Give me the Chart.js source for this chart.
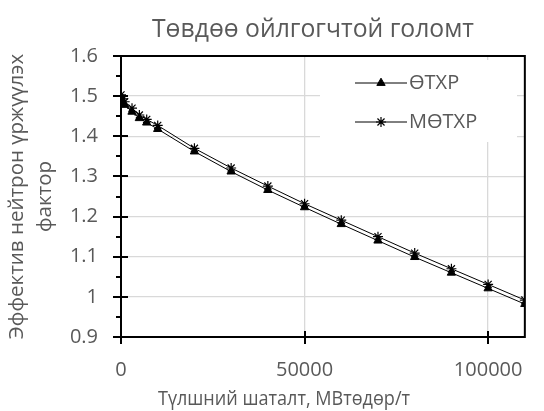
<!DOCTYPE html>
<html>
<head>
<meta charset="utf-8">
<script src="https://cdn.jsdelivr.net/npm/chart.js@4.4.0/dist/chart.umd.min.js"></script>
<style>
  html, body { margin: 0; padding: 0; background: #fff; }
</style>
</head>
<body>
<canvas id="chart" width="544" height="411"></canvas>
<script>
// burnup, MWd/t
const burnup = [0, 500, 1000, 3000, 5000, 7000, 10000, 20000, 30000, 40000, 50000, 60000, 70000, 80000, 90000, 100000, 110000];
// k-eff
const otxr = [1.495, 1.485, 1.478, 1.461, 1.445, 1.434, 1.418, 1.362, 1.312, 1.266, 1.223, 1.181, 1.140, 1.099, 1.060, 1.021, 0.982];
const motxr = [1.503, 1.493, 1.486, 1.470, 1.453, 1.442, 1.427, 1.370, 1.321, 1.276, 1.232, 1.191, 1.150, 1.109, 1.070, 1.031, 0.992];
const seriesNames = ["ӨТХР", "МӨТХР"];

const xTicks = [0, 50000, 100000];
const yTicks = [0.9, 1.0, 1.1, 1.2, 1.3, 1.4, 1.5, 1.6];

const chartTitle = "Төвдөө ойлгогчтой голомт";
const xTitle = "Түлшний шаталт, МВтөдөр/т";
const yTitle = ["Эффектив нейтрон үржүүлэх", "фактор"];

const FONT = "'Open Sans', sans-serif";
const GREY = "#595959";

const pts = ys => burnup.map((b, i) => ({x: b, y: ys[i]}));

// title, x title, axis frame, tick marks and legend box, the way excel draws them
const excelBits = {
    id: "excelBits",
    afterDraw(chart) {
        const {ctx, chartArea: a, scales: {x, y}} = chart;
        ctx.save();

        ctx.fillStyle = GREY;
        ctx.textAlign = "center";
        ctx.textBaseline = "middle";
        ctx.font = "25px " + FONT;
        ctx.fillText(chartTitle, 313, 30, 322);
        // excel left the axis title off-centre
        ctx.font = "20px " + FONT;
        ctx.fillText(xTitle, 284, 399, 252);

        ctx.strokeStyle = "#000";
        ctx.lineWidth = 2;
        ctx.strokeRect(a.left, a.top, a.right - a.left, a.bottom - a.top);

        ctx.beginPath();
        yTicks.forEach((v, i) => {
            const py = Math.round(y.getPixelForValue(v));
            ctx.moveTo(a.left - 8, py);
            ctx.lineTo(a.left + 7, py);
            if (i > 0) {
                const pm = Math.round(y.getPixelForValue((v + yTicks[i - 1]) / 2));
                ctx.moveTo(a.left - 5, pm);
                ctx.lineTo(a.left, pm);
            }
        });
        xTicks.forEach(v => {
            const px = Math.round(x.getPixelForValue(v));
            ctx.moveTo(px, a.bottom - 6);
            ctx.lineTo(px, a.bottom + 7);
        });
        ctx.stroke();

        // legend
        ctx.fillStyle = "#fff";
        ctx.fillRect(320, 60, 197, 82);
        chart.data.datasets.forEach((ds, i) => {
            const ly = 83 + i * 39;
            ctx.strokeStyle = "#000";
            ctx.lineWidth = 1;
            ctx.beginPath();
            ctx.moveTo(355, ly);
            ctx.lineTo(407, ly);
            ctx.stroke();
            ctx.fillStyle = "#000";
            ctx.lineWidth = ds.pointBorderWidth;
            Chart.helpers.drawPoint(ctx, {pointStyle: ds.pointStyle, radius: ds.pointRadius, borderWidth: ds.pointBorderWidth, rotation: 0}, 381, ly);
            ctx.fillStyle = GREY;
            ctx.font = "20px " + FONT;
            ctx.textAlign = "left";
            ctx.textBaseline = "middle";
            ctx.fillText(ds.label, 409, ly);
        });

        ctx.restore();
    }
};

new Chart(document.getElementById("chart"), {
    type: "line",
    data: {
        datasets: [{
            label: seriesNames[0],
            data: pts(otxr),
            borderColor: "#000",
            borderWidth: 1,
            pointStyle: "triangle",
            pointRadius: 4.8,
            pointBackgroundColor: "#000",
            pointBorderColor: "#000",
            pointBorderWidth: 1,
            tension: 0
        }, {
            label: seriesNames[1],
            data: pts(motxr),
            borderColor: "#000",
            borderWidth: 1,
            pointStyle: "star",
            pointRadius: 5,
            pointBackgroundColor: "#000",
            pointBorderColor: "#000",
            pointBorderWidth: 1.2,
            tension: 0
        }]
    },
    options: {
        responsive: false,
        animation: false,
        devicePixelRatio: 1,
        layout: {padding: {top: 56, right: 3, left: 0, bottom: 0}},
        plugins: {
            legend: {display: false},
            title: {display: false},
            tooltip: {enabled: false}
        },
        scales: {
            x: {
                type: "linear",
                min: 0,
                max: 110000,
                afterBuildTicks: s => { s.ticks = xTicks.map(v => ({value: v})); },
                afterFit: s => { s.height = 74; },
                ticks: {
                    color: GREY,
                    font: {family: FONT, size: 20},
                    padding: 21,
                    maxRotation: 0,
                    autoSkip: false,
                    callback: v => String(v)
                },
                grid: {color: "#d9d9d9", lineWidth: 1.3, drawTicks: false},
                border: {display: false},
                title: {display: false, text: xTitle}
            },
            y: {
                type: "linear",
                min: 0.9,
                max: 1.6,
                afterBuildTicks: s => { s.ticks = yTicks.map(v => ({value: v})); },
                afterFit: s => { s.width = 121; },
                ticks: {
                    color: GREY,
                    font: {family: FONT, size: 20},
                    padding: 23,
                    callback: v => String(+v.toFixed(2))
                },
                grid: {color: "#d9d9d9", lineWidth: 1.3, drawTicks: false},
                border: {display: false},
                title: {
                    display: true,
                    text: yTitle,
                    color: GREY,
                    font: {family: FONT, size: 20.5, lineHeight: 1.33},
                    padding: {top: 4, bottom: 0}
                }
            }
        }
    },
    plugins: [excelBits]
});
</script>
</body>
</html>
